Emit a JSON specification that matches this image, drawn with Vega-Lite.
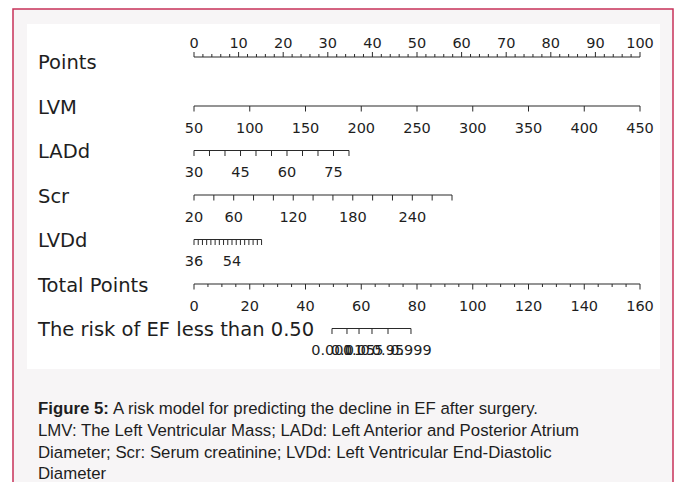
{
  "$schema": "https://vega.github.io/schema/vega-lite/v6.json",
  "width": 660,
  "height": 473,
  "autosize": {"type": "none"},
  "padding": {"left": 13, "top": 9, "right": 7, "bottom": 0},
  "background": "#ffffff",
  "config": {"view": {"stroke": null, "fill": null}, "text": {"font": "DejaVu Sans", "color": "#1e1e1e"}},
  "datasets": {
    "ticks": [
      {"r":0,"p":0,"t":"0"},{"r":0,"p":2,"m":true},{"r":0,"p":4,"m":true},{"r":0,"p":6,"m":true},{"r":0,"p":8,"m":true},
      {"r":0,"p":10,"t":"10"},{"r":0,"p":12,"m":true},{"r":0,"p":14,"m":true},{"r":0,"p":16,"m":true},{"r":0,"p":18,"m":true},
      {"r":0,"p":20,"t":"20"},{"r":0,"p":22,"m":true},{"r":0,"p":24,"m":true},{"r":0,"p":26,"m":true},{"r":0,"p":28,"m":true},
      {"r":0,"p":30,"t":"30"},{"r":0,"p":32,"m":true},{"r":0,"p":34,"m":true},{"r":0,"p":36,"m":true},{"r":0,"p":38,"m":true},
      {"r":0,"p":40,"t":"40"},{"r":0,"p":42,"m":true},{"r":0,"p":44,"m":true},{"r":0,"p":46,"m":true},{"r":0,"p":48,"m":true},
      {"r":0,"p":50,"t":"50"},{"r":0,"p":52,"m":true},{"r":0,"p":54,"m":true},{"r":0,"p":56,"m":true},{"r":0,"p":58,"m":true},
      {"r":0,"p":60,"t":"60"},{"r":0,"p":62,"m":true},{"r":0,"p":64,"m":true},{"r":0,"p":66,"m":true},{"r":0,"p":68,"m":true},
      {"r":0,"p":70,"t":"70"},{"r":0,"p":72,"m":true},{"r":0,"p":74,"m":true},{"r":0,"p":76,"m":true},{"r":0,"p":78,"m":true},
      {"r":0,"p":80,"t":"80"},{"r":0,"p":82,"m":true},{"r":0,"p":84,"m":true},{"r":0,"p":86,"m":true},{"r":0,"p":88,"m":true},
      {"r":0,"p":90,"t":"90"},{"r":0,"p":92,"m":true},{"r":0,"p":94,"m":true},{"r":0,"p":96,"m":true},{"r":0,"p":98,"m":true},
      {"r":0,"p":100,"t":"100"},
      {"r":1,"p":0,"t":"50"},{"r":1,"p":12.5,"t":"100"},{"r":1,"p":25,"t":"150"},{"r":1,"p":37.5,"t":"200"},{"r":1,"p":50,"t":"250"},
      {"r":1,"p":62.5,"t":"300"},{"r":1,"p":75,"t":"350"},{"r":1,"p":87.5,"t":"400"},{"r":1,"p":100,"t":"450"},
      {"r":2,"p":0,"t":"30"},{"r":2,"p":3.475},{"r":2,"p":6.95},{"r":2,"p":10.43,"t":"45"},{"r":2,"p":13.9},{"r":2,"p":17.38},
      {"r":2,"p":20.85,"t":"60"},{"r":2,"p":24.33},{"r":2,"p":27.8},{"r":2,"p":31.28,"t":"75"},{"r":2,"p":34.75},
      {"r":3,"p":0,"t":"20"},{"r":3,"p":4.45},{"r":3,"p":8.9,"t":"60"},{"r":3,"p":13.35},{"r":3,"p":17.8},{"r":3,"p":22.25,"t":"120"},
      {"r":3,"p":26.7},{"r":3,"p":31.15},{"r":3,"p":35.6,"t":"180"},{"r":3,"p":40.05},{"r":3,"p":44.5},{"r":3,"p":48.95,"t":"240"},
      {"r":3,"p":53.4},{"r":3,"p":57.85},
      {"r":4,"p":0,"t":"36"},{"r":4,"p":0.947},{"r":4,"p":1.893},{"r":4,"p":2.84},{"r":4,"p":3.787},{"r":4,"p":4.733},{"r":4,"p":5.68},
      {"r":4,"p":6.627},{"r":4,"p":7.573},{"r":4,"p":8.52,"t":"54"},{"r":4,"p":9.467},{"r":4,"p":10.41},{"r":4,"p":11.36},{"r":4,"p":12.31},
      {"r":4,"p":13.25},{"r":4,"p":14.2},{"r":4,"p":15.15},
      {"r":5,"p":0,"t":"0"},{"r":5,"p":3.125,"m":true},{"r":5,"p":6.25,"m":true},{"r":5,"p":9.375,"m":true},
      {"r":5,"p":12.5,"t":"20"},{"r":5,"p":15.625,"m":true},{"r":5,"p":18.75,"m":true},{"r":5,"p":21.875,"m":true},
      {"r":5,"p":25,"t":"40"},{"r":5,"p":28.125,"m":true},{"r":5,"p":31.25,"m":true},{"r":5,"p":34.375,"m":true},
      {"r":5,"p":37.5,"t":"60"},{"r":5,"p":40.625,"m":true},{"r":5,"p":43.75,"m":true},{"r":5,"p":46.875,"m":true},
      {"r":5,"p":50,"t":"80"},{"r":5,"p":53.125,"m":true},{"r":5,"p":56.25,"m":true},{"r":5,"p":59.375,"m":true},
      {"r":5,"p":62.5,"t":"100"},{"r":5,"p":65.625,"m":true},{"r":5,"p":68.75,"m":true},{"r":5,"p":71.875,"m":true},
      {"r":5,"p":75,"t":"120"},{"r":5,"p":78.125,"m":true},{"r":5,"p":81.25,"m":true},{"r":5,"p":84.375,"m":true},
      {"r":5,"p":87.5,"t":"140"},{"r":5,"p":90.625,"m":true},{"r":5,"p":93.75,"m":true},{"r":5,"p":96.875,"m":true},
      {"r":5,"p":100,"t":"160"},
      {"r":6,"p":30.94,"t":"0.001"},{"r":6,"p":34.3,"t":"0.01"},{"r":6,"p":37.0,"t":"0.05"},{"r":6,"p":39.91,"t":"0.5"},
      {"r":6,"p":43.5,"t":"0.95"},{"r":6,"p":48.65,"t":"0.999"}
    ],
    "rows": [
      {"r":0,"name":"Points"},{"r":1,"name":"LVM"},{"r":2,"name":"LADd"},{"r":3,"name":"Scr"},
      {"r":4,"name":"LVDd"},{"r":5,"name":"Total Points"},{"r":6,"name":"The risk of EF less than 0.50"}
    ]
  },
  "layer": [
    {
      "data": {"values": [{}]},
      "mark": {"type": "rect", "fill": "#f7f5f6", "stroke": "#c8325a", "strokeWidth": 1.5, "clip": false},
      "encoding": {
        "x": {"datum": -40.583, "type": "quantitative", "scale": {"domain": [-40.583, 107.399], "nice": false, "zero": false}, "axis": null},
        "x2": {"datum": 107.399},
        "y": {"datum": -1.1798, "type": "quantitative", "scale": {"domain": [-1.1798, 9.449], "nice": false, "zero": false, "reverse": true}, "axis": null},
        "y2": {"datum": 10}
      }
    },
    {
      "data": {"values": [{}]},
      "mark": {"type": "rect", "fill": "#ffffff"},
      "encoding": {
        "x": {"datum": -37.444, "type": "quantitative", "scale": {"domain": [-40.583, 107.399], "nice": false, "zero": false}, "axis": null},
        "x2": {"datum": 104.484},
        "y": {"datum": -0.8427, "type": "quantitative", "scale": {"domain": [-1.1798, 9.449], "nice": false, "zero": false, "reverse": true}, "axis": null},
        "y2": {"datum": 6.91}
      }
    },
    {
      "data": {"name": "ticks"},
      "transform": [{"filter": "datum.r == 0"}],
      "mark": {"type": "rule", "color": "#2a2a2a", "strokeWidth": 1.2, "yOffset": -4.5},
      "encoding": {
        "x": {"aggregate": "min", "field": "p", "type": "quantitative", "scale": {"domain": [-40.583, 107.399], "nice": false, "zero": false}, "axis": null},
        "x2": {"aggregate": "max", "field": "p"},
        "y": {"field": "r", "type": "quantitative", "scale": {"domain": [-1.1798, 9.449], "nice": false, "zero": false, "reverse": true}, "axis": null}
      }
    },
    {
      "data": {"name": "ticks"},
      "transform": [{"filter": "datum.r > 0"}],
      "mark": {"type": "rule", "color": "#2a2a2a", "strokeWidth": 1.2},
      "encoding": {
        "x": {"aggregate": "min", "field": "p", "type": "quantitative", "scale": {"domain": [-40.583, 107.399], "nice": false, "zero": false}, "axis": null},
        "x2": {"aggregate": "max", "field": "p"},
        "y": {"field": "r", "type": "quantitative", "scale": {"domain": [-1.1798, 9.449], "nice": false, "zero": false, "reverse": true}, "axis": null}
      }
    },
    {
      "data": {"name": "ticks"},
      "transform": [{"filter": "datum.r == 0 && !datum.m"}],
      "mark": {"type": "rule", "color": "#2a2a2a", "strokeWidth": 1, "yOffset": -4.5, "y2Offset": -9.5},
      "encoding": {
        "x": {"field": "p", "type": "quantitative", "scale": {"domain": [-40.583, 107.399], "nice": false, "zero": false}, "axis": null},
        "y": {"field": "r", "type": "quantitative", "scale": {"domain": [-1.1798, 9.449], "nice": false, "zero": false, "reverse": true}, "axis": null},
        "y2": {"field": "r"}
      }
    },
    {
      "data": {"name": "ticks"},
      "transform": [{"filter": "datum.r == 0 && datum.m"}],
      "mark": {"type": "rule", "color": "#2a2a2a", "strokeWidth": 1, "yOffset": -4.5, "y2Offset": -7.5},
      "encoding": {
        "x": {"field": "p", "type": "quantitative", "scale": {"domain": [-40.583, 107.399], "nice": false, "zero": false}, "axis": null},
        "y": {"field": "r", "type": "quantitative", "scale": {"domain": [-1.1798, 9.449], "nice": false, "zero": false, "reverse": true}, "axis": null},
        "y2": {"field": "r"}
      }
    },
    {
      "data": {"name": "ticks"},
      "transform": [{"filter": "datum.r > 0 && !datum.m"}],
      "mark": {"type": "rule", "color": "#2a2a2a", "strokeWidth": 1, "y2Offset": 5.5},
      "encoding": {
        "x": {"field": "p", "type": "quantitative", "scale": {"domain": [-40.583, 107.399], "nice": false, "zero": false}, "axis": null},
        "y": {"field": "r", "type": "quantitative", "scale": {"domain": [-1.1798, 9.449], "nice": false, "zero": false, "reverse": true}, "axis": null},
        "y2": {"field": "r"}
      }
    },
    {
      "data": {"name": "ticks"},
      "transform": [{"filter": "datum.r > 0 && datum.m"}],
      "mark": {"type": "rule", "color": "#2a2a2a", "strokeWidth": 1, "y2Offset": 3},
      "encoding": {
        "x": {"field": "p", "type": "quantitative", "scale": {"domain": [-40.583, 107.399], "nice": false, "zero": false}, "axis": null},
        "y": {"field": "r", "type": "quantitative", "scale": {"domain": [-1.1798, 9.449], "nice": false, "zero": false, "reverse": true}, "axis": null},
        "y2": {"field": "r"}
      }
    },
    {
      "data": {"name": "ticks"},
      "transform": [{"filter": "datum.r == 0 && datum.t"}],
      "mark": {"type": "text", "fontSize": 14.5, "baseline": "middle", "align": "center", "dy": -17.5},
      "encoding": {
        "x": {"field": "p", "type": "quantitative", "scale": {"domain": [-40.583, 107.399], "nice": false, "zero": false}, "axis": null},
        "y": {"field": "r", "type": "quantitative", "scale": {"domain": [-1.1798, 9.449], "nice": false, "zero": false, "reverse": true}, "axis": null},
        "text": {"field": "t"}
      }
    },
    {
      "data": {"name": "ticks"},
      "transform": [{"filter": "datum.r > 0 && datum.t"}],
      "mark": {"type": "text", "fontSize": 14.5, "baseline": "middle", "align": "center", "dy": 22.5},
      "encoding": {
        "x": {"field": "p", "type": "quantitative", "scale": {"domain": [-40.583, 107.399], "nice": false, "zero": false}, "axis": null},
        "y": {"field": "r", "type": "quantitative", "scale": {"domain": [-1.1798, 9.449], "nice": false, "zero": false, "reverse": true}, "axis": null},
        "text": {"field": "t"}
      }
    },
    {
      "data": {"name": "rows"},
      "mark": {"type": "text", "fontSize": 19.5, "baseline": "middle", "align": "left", "dy": 1.5},
      "encoding": {
        "x": {"datum": -34.978, "type": "quantitative", "scale": {"domain": [-40.583, 107.399], "nice": false, "zero": false}, "axis": null},
        "y": {"field": "r", "type": "quantitative", "scale": {"domain": [-1.1798, 9.449], "nice": false, "zero": false, "reverse": true}, "axis": null},
        "text": {"field": "name"}
      }
    },
    {
      "data": {"values": [{}]},
      "mark": {"type": "text", "font": "Liberation Sans", "fontSize": 16.8, "fontWeight": "bold", "baseline": "middle", "align": "left"},
      "encoding": {
        "x": {"datum": -34.978, "type": "quantitative", "scale": {"domain": [-40.583, 107.399], "nice": false, "zero": false}, "axis": null},
        "y": {"datum": 7.809, "type": "quantitative", "scale": {"domain": [-1.1798, 9.449], "nice": false, "zero": false, "reverse": true}, "axis": null},
        "text": {"value": "Figure 5:"}
      }
    },
    {
      "data": {"values": [{}]},
      "mark": {"type": "text", "font": "Liberation Sans", "fontSize": 16.8, "baseline": "middle", "align": "left"},
      "encoding": {
        "x": {"datum": -18.16, "type": "quantitative", "scale": {"domain": [-40.583, 107.399], "nice": false, "zero": false}, "axis": null},
        "y": {"datum": 7.809, "type": "quantitative", "scale": {"domain": [-1.1798, 9.449], "nice": false, "zero": false, "reverse": true}, "axis": null},
        "text": {"value": "A risk model for predicting the decline in EF after surgery."}
      }
    },
    {
      "data": {"values": [{}]},
      "mark": {"type": "text", "font": "Liberation Sans", "fontSize": 16.8, "baseline": "middle", "align": "left"},
      "encoding": {
        "x": {"datum": -34.978, "type": "quantitative", "scale": {"domain": [-40.583, 107.399], "nice": false, "zero": false}, "axis": null},
        "y": {"datum": 8.303, "type": "quantitative", "scale": {"domain": [-1.1798, 9.449], "nice": false, "zero": false, "reverse": true}, "axis": null},
        "text": {"value": "LMV: The Left Ventricular Mass; LADd: Left Anterior and Posterior Atrium"}
      }
    },
    {
      "data": {"values": [{}]},
      "mark": {"type": "text", "font": "Liberation Sans", "fontSize": 16.8, "baseline": "middle", "align": "left"},
      "encoding": {
        "x": {"datum": -34.978, "type": "quantitative", "scale": {"domain": [-40.583, 107.399], "nice": false, "zero": false}, "axis": null},
        "y": {"datum": 8.798, "type": "quantitative", "scale": {"domain": [-1.1798, 9.449], "nice": false, "zero": false, "reverse": true}, "axis": null},
        "text": {"value": "Diameter; Scr: Serum creatinine; LVDd: Left Ventricular End-Diastolic"}
      }
    },
    {
      "data": {"values": [{}]},
      "mark": {"type": "text", "font": "Liberation Sans", "fontSize": 16.8, "baseline": "middle", "align": "left"},
      "encoding": {
        "x": {"datum": -34.978, "type": "quantitative", "scale": {"domain": [-40.583, 107.399], "nice": false, "zero": false}, "axis": null},
        "y": {"datum": 9.27, "type": "quantitative", "scale": {"domain": [-1.1798, 9.449], "nice": false, "zero": false, "reverse": true}, "axis": null},
        "text": {"value": "Diameter"}
      }
    }
  ]
}
